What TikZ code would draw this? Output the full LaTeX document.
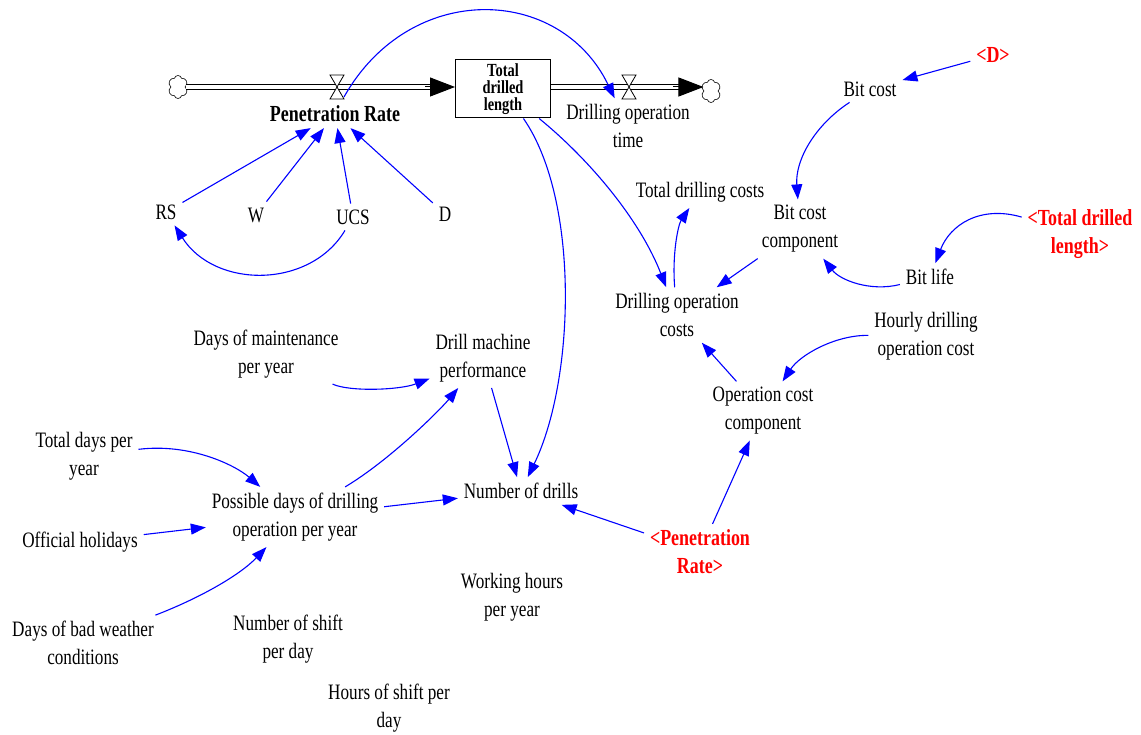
\documentclass[tikz,border=0pt]{standalone}
\usepackage{fontspec}
\setmainfont{Liberation Serif}[FakeStretch=0.78]
\usetikzlibrary{arrows.meta,shapes.symbols,calc}

\tikzset{
  var/.style={font=\fontsize{22}{28}\selectfont, align=center, inner sep=1pt, outer sep=5pt},
  bvar/.style={var, font=\fontsize{23}{28}\selectfont\bfseries},
  shadow/.style={bvar, text=red},
  link/.style={draw=blue, line width=1.1pt, -{Triangle[length=15pt,width=11pt]}},
  stock/.style={draw, line width=1pt, minimum width=95pt, minimum height=58pt, inner sep=0pt, align=center,
    font=\fontsize{18.5}{17}\selectfont\bfseries, execute at begin node={\lineskiplimit=-20pt\relax}},
  pipe/.style={double, double distance=4.5pt, line width=1.2pt},
  flowtip/.style={line width=1pt, -{Triangle[length=25pt,width=19pt]}},
  cloudend/.style={shape=cloud, cloud puffs=6, cloud puff arc=150, aspect=0.85, draw, fill=white,
    line width=0.6pt, inner sep=0pt, minimum width=20pt, minimum height=23pt},
  valve/.pic={\draw[fill=white, line width=0.8pt] (-7,-12) -- (7,-12) -- (-7,12) -- (7,12) -- cycle;}
}

\begin{document}
\begin{tikzpicture}[x=1pt, y=-1pt]
\useasboundingbox (0,0) rectangle (1141,735);

% stock and flows
\node[stock] (tdl) at (503,89) {Total\\drilled\\length};
\node[cloudend] (srcL) at (178,87) {};
\node[cloudend] (sinkR) at (711,91) {};
\coordinate (vPR) at (337,87);
\coordinate (vDOT) at (629,87);

\draw[pipe] (srcL.east |- vPR) -- ($(vPR -| tdl.west)+(-22,0)$);
\draw[flowtip] ($(vPR -| tdl.west)+(-30,0)$) -- (vPR -| tdl.west);
\draw[pipe] (vDOT -| tdl.east) -- ($(vDOT -| sinkR.west)+(-22,0)$);
\draw[flowtip] ($(vDOT -| sinkR.west)+(-30,0)$) -- (vDOT -| sinkR.west);

\node[bvar] (PR) at (335,114) {Penetration Rate};
\node[var] (DOT) at (628,126) {Drilling operation\\time};

\draw[link] ($(vPR)+(7,10)$) .. controls (410,-20) and (560,-15) .. (DOT);
\pic at (vPR) {valve};
\pic at (vDOT) {valve};

% penetration rate inputs
\node[var] (RS) at (166,212) {RS};
\node[var] (W) at (256,215) {W};
\node[var] (UCS) at (353,217) {UCS};
\node[var] (D) at (445,214) {D};

\draw[link] (RS) -- (PR);
\draw[link] (W) -- (PR);
\draw[link] (UCS) -- (PR);
\draw[link] (D) -- (PR);
\draw[link] (UCS) .. controls (310,289) and (215,289) .. (RS);

% cost side
\node[var] (BC) at (870,89) {Bit cost};
\node[shadow] (Dsh) at (993,55) {<D>};
\node[var] (BCC) at (800,229) {Bit cost\\component};
\node[var] (TDC) at (700,192) {Total drilling costs};
\node[var] (DOC) at (677,315) {Drilling operation\\costs};
\node[var] (BL) at (930,277) {Bit life};
\node[shadow] (TDLsh) at (1080,234) {<Total drilled\\length>};
\node[var] (HDOC) at (926,336) {Hourly drilling\\operation cost};
\node[var] (OCC) at (763,411) {Operation cost\\component};
\node[shadow] (PRsh) at (700,552) {<Penetration\\Rate>};

\draw[link] (Dsh) -- (BC);
\draw[link] (BC) .. controls (815,125) and (795,160) .. (BCC);
\draw[link] (TDLsh) .. controls (980,205) and (950,225) .. (BL);
\draw[link] (BL) .. controls (870,292) and (840,280) .. (BCC);
\draw[link] (BCC) -- (DOC);
\draw[link] (DOC) .. controls (672,255) and (678,225) .. (TDC);
\draw[link] (tdl) .. controls (590,160) and (640,220) .. (DOC);
\draw[link] (HDOC) .. controls (835,335) and (800,355) .. (OCC);
\draw[link] (OCC) -- (DOC);
\draw[link] (PRsh) -- (OCC);

% number of drills
\node[var] (NOD) at (521,491) {Number of drills};
\node[var] (DMP) at (483,358) {Drill machine\\performance};
\node[var] (DMY) at (266,354) {Days of maintenance\\per year};
\node[var] (PDD) at (295,517) {Possible days of drilling\\operation per year};
\node[var] (TDY) at (84,456) {Total days per\\year};
\node[var] (OH) at (80,542) {Official holidays};
\node[var] (DBW) at (83,643) {Days of bad weather\\conditions};
\node[var] (NSD) at (288,639) {Number of shift\\per day};
\node[var] (WHY) at (512,597) {Working hours\\per year};
\node[var] (HSD) at (389,708) {Hours of shift per\\day};

\draw[link] (tdl) .. controls (580,200) and (575,380) .. (NOD);
\draw[link] (PRsh) -- (NOD);
\draw[link] (DMY) .. controls (350,392) and (400,390) .. (DMP);
\draw[link] (DMP) -- (NOD);
\draw[link] (PDD) .. controls (390,460) and (440,410) .. (DMP);
\draw[link] (PDD) -- (NOD);
\draw[link] (TDY) .. controls (190,443) and (235,465) .. (PDD);
\draw[link] (OH) -- (PDD);
\draw[link] (DBW) .. controls (200,598) and (240,575) .. (PDD);

\end{tikzpicture}
\end{document}
